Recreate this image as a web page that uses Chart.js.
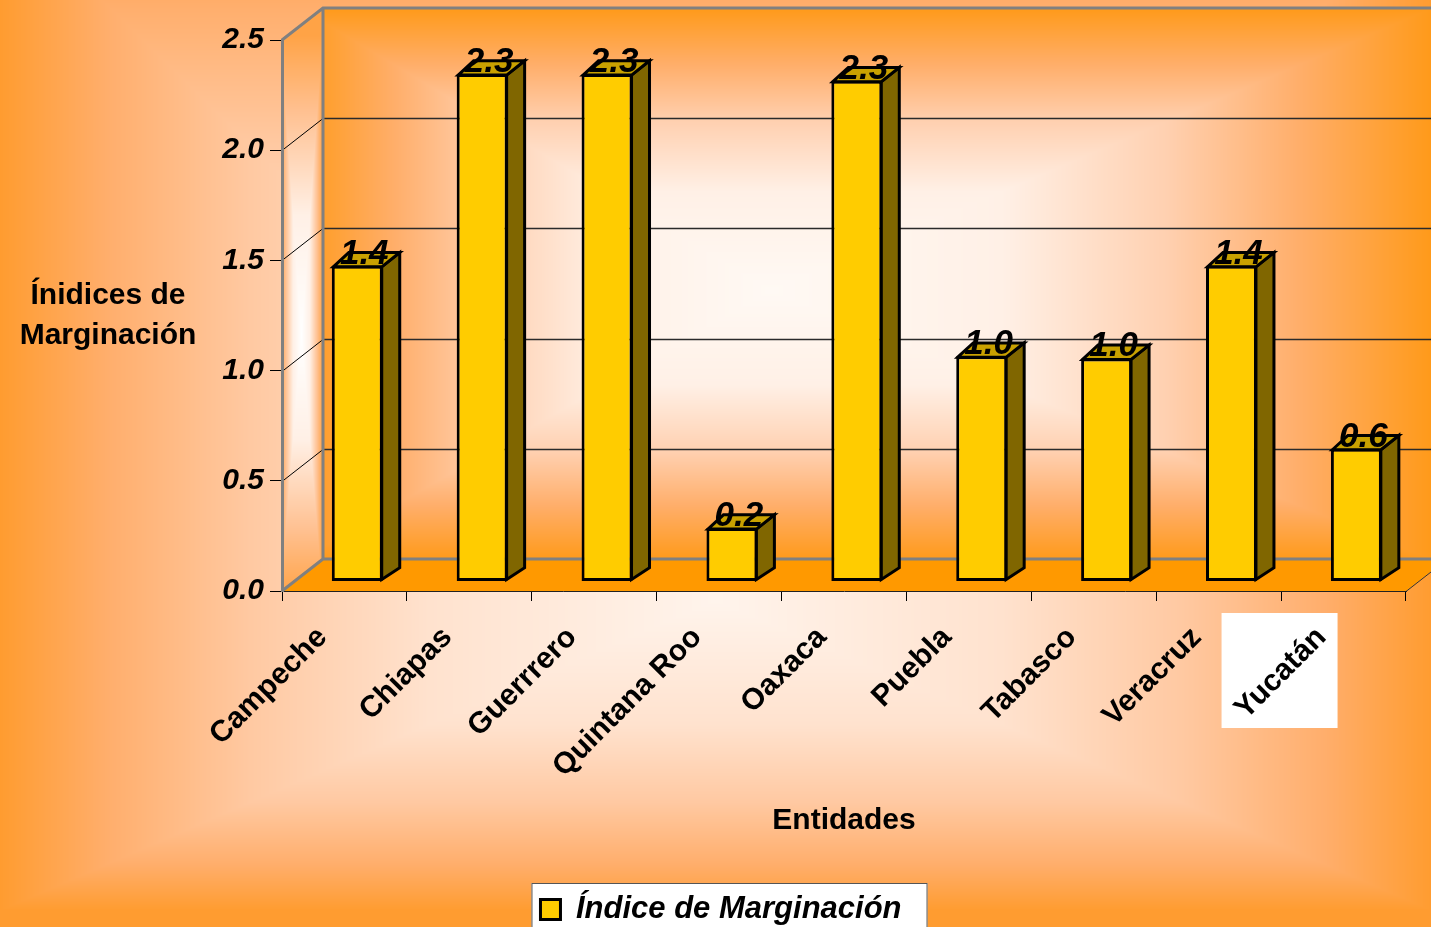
<!DOCTYPE html>
<html><head><meta charset="utf-8">
<script src="https://cdn.jsdelivr.net/npm/chart.js@4.4.1/dist/chart.umd.min.js"></script>
<style>html,body{margin:0;padding:0;background:#FFA040;overflow:hidden}</style>
</head><body>
<canvas id="c" width="1431" height="927"></canvas>
<script>
// ---------- data ----------
const categories = ['Campeche', 'Chiapas', 'Guerrrero', 'Quintana Roo', 'Oaxaca', 'Puebla', 'Tabasco', 'Veracruz', 'Yucatán'];
const values = [1.43, 2.30, 2.30, 0.24, 2.27, 1.02, 1.01, 1.43, 0.60];
const yTickValues = [0, 0.5, 1.0, 1.5, 2.0, 2.5];
const seriesName = 'Índice de Marginación';
const yTitleLines = ['Ínidices de', 'Marginación'];
const xTitle = 'Entidades';

// ---------- style / layout constants ----------
const FONT = "'Liberation Sans', Arial, sans-serif";
const DEPTH_X = 41, DEPTH_Y = 32;        // full floor depth (front -> back wall)
const BAR_Z = 10 / 32;                    // bar plane position inside the depth
const BAR_DX = 17, BAR_DY = 13.3;         // bar depth
const Y_MIN = 0, Y_MAX = 2.5;
const PLOT_TOP = 40, PLOT_BOTTOM = 591, PLOT_LEFT = 282, PLOT_RIGHT = 1406;
const PAD_BOTTOM = -8;
const barShiftX = DEPTH_X * BAR_Z, barShiftY = DEPTH_Y * BAR_Z;
const unitX = (PLOT_RIGHT - PLOT_LEFT) / categories.length;
const unitY = (PLOT_BOTTOM - PLOT_TOP) / (Y_MAX - Y_MIN);

function hex(h) { h = h.replace('#', ''); return [parseInt(h.slice(0,2),16), parseInt(h.slice(2,4),16), parseInt(h.slice(4,6),16)]; }
function gradCanvas(w, h, cx, cy, ext, stops) {
  const c = document.createElement('canvas'); c.width = w; c.height = h;
  const g = c.getContext('2d'); const img = g.createImageData(w, h); const d = img.data;
  const st = stops.map(s => [s[0], hex(s[1])]);
  for (let y = 0; y < h; y++) {
    const ty = y < cy ? (cy - y) / ext.t : (y - cy) / ext.b;
    for (let x = 0; x < w; x++) {
      const tx = x < cx ? (cx - x) / ext.l : (x - cx) / ext.r;
      let t = Math.min(1, Math.max(tx, ty));
      let k = 1; while (k < st.length - 1 && st[k][0] < t) k++;
      const a = st[k-1], b = st[k];
      const f = Math.max(0, Math.min(1, (t - a[0]) / ((b[0] - a[0]) || 1)));
      const i = (y * w + x) * 4;
      d[i] = a[1][0] + (b[1][0] - a[1][0]) * f;
      d[i+1] = a[1][1] + (b[1][1] - a[1][1]) * f;
      d[i+2] = a[1][2] + (b[1][2] - a[1][2]) * f;
      d[i+3] = 255;
    }
  }
  g.putImageData(img, 0, 0);
  return c;
}
function poly(ctx, pts) { ctx.beginPath(); ctx.moveTo(pts[0][0], pts[0][1]); for (let i = 1; i < pts.length; i++) ctx.lineTo(pts[i][0], pts[i][1]); ctx.closePath(); }

const scenePlugin = {
  id: 'scene',
  beforeDraw(chart) {
    const ctx = chart.ctx, ca = chart.chartArea, W = chart.width, H = chart.height;
    const ys = chart.scales.y, xs = chart.scales.x;
    // outer background
    const bg = gradCanvas(W, H, 715, 600, {l: 715, r: 716, t: 700, b: 310},
      [[0, '#FFF4EC'], [0.4, '#FFE2CE'], [0.65, '#FFC9A2'], [0.85, '#FFAE6C'], [1, '#FF9C30']]);
    ctx.drawImage(bg, 0, 0);
    // legend box
    const lg = chart.legend;
    if (lg && lg.legendHitBoxes && lg.legendHitBoxes.length) {
      const hb = lg.legendHitBoxes[0];
      ctx.save(); ctx.fillStyle = '#FFFFFF'; ctx.strokeStyle = '#555'; ctx.lineWidth = 1;
      ctx.fillRect(hb.left - 9, hb.top - 11, hb.width + 35, 80);
      ctx.strokeRect(hb.left - 8.5, hb.top - 10.5, hb.width + 34, 80);
      ctx.restore();
    }
    // white box behind last category label
    const lastX = xs.getPixelForValue(categories.length - 1);
    ctx.fillStyle = '#FFFFFF'; ctx.fillRect(lastX - 122, 613, 116, 115);

    const L = ca.left, R = ca.right, T = ca.top, B = ca.bottom;
    const bL = L + DEPTH_X, bB = B - DEPTH_Y, bT = ys.getPixelForValue(Y_MAX) - DEPTH_Y;
    // back wall
    ctx.save();
    poly(ctx, [[bL, bT], [W + 50, bT], [W + 50, bB], [bL, bB]]); ctx.clip();
    const bw = gradCanvas(W, H, 770, 290, {l: 470, r: 661, t: 282, b: 269},
      [[0, '#FFF9F4'], [0.35, '#FFF0E6'], [0.6, '#FFD0B0'], [0.8, '#FFAE6A'], [1, '#FF9A1A']]);
    ctx.drawImage(bw, 0, 0);
    ctx.restore();
    // left wall
    ctx.save();
    poly(ctx, [[L, T], [bL, bT], [bL, bB], [L, B]]); ctx.clip();
    const lw = gradCanvas(W, H, 301, 335, {l: 21, r: 21, t: 300, b: 260},
      [[0, '#FFFFFF'], [0.4, '#FFF0E6'], [0.75, '#FFC090'], [1, '#FFA346']]);
    ctx.drawImage(lw, 0, 0);
    ctx.restore();
    // floor
    ctx.fillStyle = '#FF9900';
    poly(ctx, [[L, B], [R, B], [R + DEPTH_X, bB], [bL, bB]]); ctx.fill();
    ctx.strokeStyle = '#333'; ctx.lineWidth = 1;
    ctx.beginPath(); ctx.moveTo(R, B + 0.5); ctx.lineTo(R + DEPTH_X, bB + 0.5); ctx.stroke();
    // gridlines
    yTickValues.forEach(v => {
      if (v === Y_MIN || v === Y_MAX) return;
      const py = Math.round(ys.getPixelForValue(v)) + 0.5;
      ctx.strokeStyle = '#2a2a2a'; ctx.lineWidth = 1.3;
      ctx.beginPath(); ctx.moveTo(bL, py - DEPTH_Y); ctx.lineTo(W + 50, py - DEPTH_Y); ctx.stroke();
      ctx.strokeStyle = '#000'; ctx.lineWidth = 1;
      ctx.beginPath(); ctx.moveTo(L, py); ctx.lineTo(bL, py - DEPTH_Y); ctx.stroke();
    });
    // wall edges
    ctx.strokeStyle = '#808080'; ctx.lineWidth = 3; ctx.lineCap = 'butt';
    ctx.beginPath();
    ctx.moveTo(L, T); ctx.lineTo(bL, bT); ctx.lineTo(W + 50, bT);
    ctx.moveTo(bL, bT); ctx.lineTo(bL, bB); ctx.lineTo(W + 50, bB);
    ctx.moveTo(L, B); ctx.lineTo(bL, bB);
    ctx.stroke();
  },
  beforeDatasetsDraw(chart) {
    const ctx = chart.ctx;
    const meta = chart.getDatasetMeta(0);
    ctx.save();
    ctx.lineWidth = 3; ctx.strokeStyle = '#000'; ctx.lineJoin = 'miter';
    meta.data.forEach(bar => {
      const p = bar.getProps(['x', 'y', 'base', 'width'], true);
      const l = p.x - p.width / 2, r = p.x + p.width / 2;
      ctx.fillStyle = '#806600';
      poly(ctx, [[r - 1, p.y + 1], [r + BAR_DX, p.y - BAR_DY], [r + BAR_DX, p.base - BAR_DY], [r - 1, p.base - 1.5]]);
      ctx.fill(); ctx.stroke();
      ctx.fillStyle = '#C9A100';
      poly(ctx, [[l + 1.5, p.y + 1], [l + BAR_DX, p.y - BAR_DY], [r + BAR_DX, p.y - BAR_DY], [r - 1, p.y + 1]]);
      ctx.fill(); ctx.stroke();
    });
    ctx.restore();
  },
  afterDatasetsDraw(chart) {
    const ctx = chart.ctx;
    const meta = chart.getDatasetMeta(0);
    ctx.save();
    ctx.font = 'italic bold 35px ' + FONT; ctx.fillStyle = '#000';
    ctx.textAlign = 'center'; ctx.textBaseline = 'alphabetic';
    meta.data.forEach((bar, i) => {
      const p = bar.getProps(['x', 'y'], true);
      ctx.fillText(values[i].toFixed(1), p.x + 7, p.y - 2);
    });
    ctx.restore();
  },
  afterDraw(chart) {
    const ctx = chart.ctx;
    ctx.save();
    ctx.font = 'bold 30px ' + FONT; ctx.fillStyle = '#000';
    ctx.textAlign = 'center'; ctx.textBaseline = 'middle';
    ctx.fillText(yTitleLines[0], 108, 296);
    ctx.fillText(yTitleLines[1], 108, 336);
    ctx.restore();
  }
};

new Chart(document.getElementById('c'), {
  type: 'bar',
  data: {
    labels: categories,
    datasets: [{
      label: seriesName,
      data: values.map((v, i) => ({x: i, y: v})),
      xAxisID: 'xb', yAxisID: 'yb',
      backgroundColor: '#FFCC00', borderColor: '#000000', borderWidth: 3, borderSkipped: false,
      barPercentage: 0.408, categoryPercentage: 1
    }]
  },
  options: {
    responsive: false, animation: false, devicePixelRatio: 1,
    layout: {padding: {left: 36, right: 1431 - PLOT_RIGHT, top: PLOT_TOP, bottom: PAD_BOTTOM}},
    plugins: {
      tooltip: {enabled: false},
      legend: {
        position: 'bottom',
        labels: {boxWidth: 20, boxHeight: 20, padding: 4, color: '#000',
          font: {family: FONT, size: 31, weight: 'bold', style: 'italic'}}
      }
    },
    scales: {
      x: {
        type: 'category', labels: categories, offset: true, position: 'bottom',
        grid: {offset: true, drawOnChartArea: false, drawTicks: true, tickLength: 10, color: '#000', lineWidth: 1},
        border: {display: true, color: '#222', width: 1},
        ticks: {autoSkip: false, minRotation: 45, maxRotation: 45, padding: 19, labelOffset: -22, color: '#000',
          font: {family: FONT, size: 30, weight: 'bold'}},
        title: {display: true, text: xTitle, color: '#000', font: {family: FONT, size: 30, weight: 'bold'},
          padding: {top: 0, bottom: 51}},
        afterFit(s) { s.height = s.chart.height - PAD_BOTTOM - PLOT_BOTTOM - (s.chart.legend ? s.chart.legend.height : 38); }
      },
      y: {
        type: 'linear', position: 'left', min: Y_MIN, max: Y_MAX,
        afterBuildTicks(s) { s.ticks = yTickValues.map(v => ({value: v})); },
        grid: {drawOnChartArea: false, drawTicks: true, tickLength: 12, color: '#000', lineWidth: 1},
        border: {display: true, color: '#808080', width: 3},
        ticks: {padding: 6, color: '#000', callback: v => Number(v).toFixed(1),
          font: {family: FONT, size: 30, weight: 'bold', style: 'italic'}},
        afterFit(s) { s.width = PLOT_LEFT - 36; }
      },
      xb: {
        type: 'linear', display: false, offset: false,
        min: -0.5 - barShiftX / unitX, max: categories.length - 0.5 - barShiftX / unitX
      },
      yb: {
        type: 'linear', display: false,
        min: Y_MIN - barShiftY / unitY, max: Y_MAX - barShiftY / unitY
      }
    }
  },
  plugins: [scenePlugin]
});
</script>
</body></html>
